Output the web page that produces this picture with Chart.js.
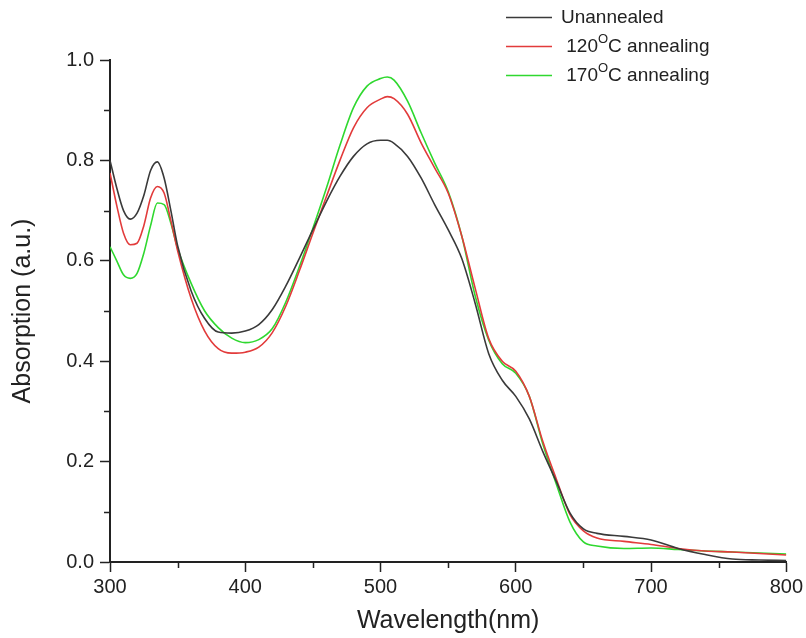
<!DOCTYPE html>
<html>
<head>
<meta charset="utf-8">
<script src="https://cdn.jsdelivr.net/npm/chart.js@4/dist/chart.umd.min.js"></script>
<style>
  html, body { margin: 0; padding: 0; background: #fff; }
  #wrap { width: 806px; height: 638px; position: relative; }
</style>
</head>
<body>
<div id="wrap"><canvas id="c" width="806" height="638"></canvas></div>
<script>
// UV-vis absorption spectra, three annealing conditions
"use strict";

const WAVELENGTHS = [
  300, 305, 310, 315, 320, 325, 330, 335, 340, 345, 350, 360, 370, 380, 390,
  400, 410, 420, 430, 440, 450, 460, 470, 480, 490, 500, 505, 510, 520, 530,
  540, 550, 560, 570, 580, 590, 600, 610, 620, 630, 640, 650, 660, 680, 700,
  720, 740, 760, 780, 800,
];

const UNANNEALED = [
  0.800, 0.745, 0.700, 0.683, 0.695, 0.730, 0.780, 0.797, 0.765, 0.700, 0.630, 0.540, 0.485, 0.458, 0.456,
  0.460, 0.473, 0.503, 0.550, 0.605, 0.662, 0.718, 0.768, 0.808, 0.833, 0.840, 0.840, 0.834, 0.808, 0.765,
  0.712, 0.662, 0.605, 0.515, 0.415, 0.362, 0.330, 0.285, 0.220, 0.160, 0.098, 0.066, 0.057, 0.051, 0.044,
  0.027, 0.015, 0.006, 0.004, 0.003,
];

const ANNEAL_120 = [
  0.775, 0.710, 0.655, 0.632, 0.635, 0.670, 0.725, 0.748, 0.735, 0.680, 0.620, 0.525, 0.460, 0.425, 0.416,
  0.418, 0.428, 0.457, 0.510, 0.580, 0.655, 0.728, 0.800, 0.865, 0.905, 0.922, 0.927, 0.923, 0.892, 0.835,
  0.785, 0.735, 0.650, 0.545, 0.445, 0.400, 0.380, 0.330, 0.240, 0.165, 0.095, 0.062, 0.048, 0.041, 0.035,
  0.027, 0.022, 0.020, 0.017, 0.014,
];

const ANNEAL_170 = [
  0.628, 0.600, 0.572, 0.565, 0.575, 0.615, 0.670, 0.715, 0.712, 0.675, 0.625, 0.555, 0.500, 0.467, 0.446,
  0.437, 0.443, 0.465, 0.518, 0.588, 0.665, 0.745, 0.830, 0.905, 0.948, 0.963, 0.966, 0.960, 0.918, 0.855,
  0.795, 0.738, 0.650, 0.530, 0.442, 0.395, 0.376, 0.330, 0.235, 0.155, 0.080, 0.040, 0.032, 0.027, 0.028,
  0.025, 0.022, 0.020, 0.018, 0.016,
];

const SERIES_LABELS = ["Unannealed", " 120°C annealing", " 170°C annealing"];
const SERIES_COLORS = ["#3a3a3a", "#e23b3b", "#2fd82f"];
const SERIES_VALUES = [UNANNEALED, ANNEAL_120, ANNEAL_170];

const X_MINOR = [350, 450, 550, 650, 750];
const Y_MINOR = [0.1, 0.3, 0.5, 0.7, 0.9];

const FONT = "'Liberation Sans', Arial, sans-serif";
const AXIS_COLOR = "#222";

function toPoints(values) {
  return WAVELENGTHS.map((x, i) => ({ x, y: values[i] }));
}

// minor ticks, shorter than the major ones
const minorTicks = {
  id: "minorTicks",
  afterDraw(chart) {
    const { ctx, chartArea, scales } = chart;
    ctx.save();
    ctx.strokeStyle = AXIS_COLOR;
    ctx.lineWidth = 1.5;
    ctx.beginPath();
    X_MINOR.forEach(v => {
      const px = Math.round(scales.x.getPixelForValue(v)) + 0.5;
      ctx.moveTo(px, chartArea.bottom);
      ctx.lineTo(px, chartArea.bottom + 6);
    });
    Y_MINOR.forEach(v => {
      const py = Math.round(scales.y.getPixelForValue(v)) + 0.5;
      ctx.moveTo(chartArea.left, py);
      ctx.lineTo(chartArea.left - 6, py);
    });
    ctx.stroke();
    ctx.restore();
  },
};

// legend in the top right, with a raised "O" for the degree sign
const sketchLegend = {
  id: "sketchLegend",
  afterDraw(chart) {
    const { ctx } = chart;
    const x0 = 506, x1 = 552, tx = 561;
    const rows = [17, 46, 75];
    ctx.save();
    ctx.textBaseline = "middle";
    chart.data.datasets.forEach((ds, i) => {
      const y = rows[i];
      ctx.strokeStyle = ds.borderColor;
      ctx.lineWidth = 1.5;
      ctx.beginPath();
      ctx.moveTo(x0, y + 0.5);
      ctx.lineTo(x1, y + 0.5);
      ctx.stroke();

      ctx.fillStyle = "#222";
      const parts = ds.label.split("°");
      let x = tx;
      ctx.font = `19px ${FONT}`;
      ctx.fillText(parts[0], x, y + 1);
      x += ctx.measureText(parts[0]).width;
      if (parts.length > 1) {
        ctx.font = `13px ${FONT}`;
        ctx.fillText("O", x, y - 7);
        x += ctx.measureText("O").width;
        ctx.font = `19px ${FONT}`;
        ctx.fillText(parts[1], x, y + 1);
      }
    });
    ctx.restore();
  },
};

new Chart(document.getElementById("c"), {
  type: "line",
  data: {
    datasets: SERIES_VALUES.map((vals, i) => ({
      label: SERIES_LABELS[i],
      data: toPoints(vals),
      borderColor: SERIES_COLORS[i],
      backgroundColor: SERIES_COLORS[i],
      borderWidth: 1.6,
      pointRadius: 0,
      cubicInterpolationMode: "monotone",
      fill: false,
    })),
  },
  options: {
    responsive: false,
    animation: false,
    layout: { padding: { top: 60, right: 18, left: 0, bottom: 0 } },
    plugins: {
      legend: { display: false },
      tooltip: { enabled: false },
    },
    scales: {
      x: {
        type: "linear",
        min: 300,
        max: 800,
        afterFit: s => { s.height = 76; },
        border: { display: true, color: AXIS_COLOR, width: 2 },
        grid: {
          drawOnChartArea: false,
          drawTicks: true,
          tickLength: 10,
          tickColor: AXIS_COLOR,
          tickWidth: 1.5,
        },
        ticks: {
          stepSize: 100,
          padding: 3,
          color: "#222",
          font: { family: FONT, size: 20 },
          maxRotation: 0,
        },
        title: {
          display: true,
          text: "Wavelength(nm)",
          color: "#222",
          font: { family: FONT, size: 25 },
          padding: { top: 0, bottom: 2 },
        },
      },
      y: {
        min: 0,
        max: 1.0,
        afterFit: s => { s.width = 110; },
        border: { display: true, color: AXIS_COLOR, width: 2 },
        grid: {
          drawOnChartArea: false,
          drawTicks: true,
          tickLength: 10,
          tickColor: AXIS_COLOR,
          tickWidth: 1.5,
        },
        ticks: {
          stepSize: 0.2,
          padding: 6,
          color: "#222",
          font: { family: FONT, size: 20 },
          callback: v => Number(v).toFixed(1),
        },
        title: {
          display: true,
          text: "Absorption (a.u.)",
          color: "#222",
          font: { family: FONT, size: 25 },
          padding: { top: 8, bottom: 0 },
        },
      },
    },
  },
  plugins: [minorTicks, sketchLegend],
});
</script>
</body>
</html>
